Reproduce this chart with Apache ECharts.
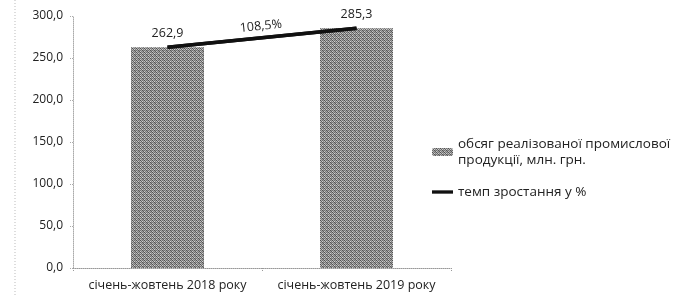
<!DOCTYPE html>
<html>
<head>
<meta charset="utf-8">
<script src="https://cdn.jsdelivr.net/npm/echarts@6/dist/echarts.min.js"></script>
<style>
  html, body { margin: 0; padding: 0; background: #fff; }
  #main { width: 692px; height: 297px; }
</style>
</head>
<body>
<div id="main"></div>
<script>
// дані
var categories = ['січень-жовтень 2018 року', 'січень-жовтень 2019 року'];
var volume = [262.9, 285.3];          // обсяг реалізованої промислової продукції, млн. грн.
var growth = [108.5];                 // темп зростання у %
var yTicks = { min: 0, max: 300, step: 50 };
var seriesNames = ['обсяг реалізованої промислової\nпродукції, млн. грн.', 'темп зростання у %'];

function fmt(v, d) {
    return v.toFixed(d).replace('.', ',');
}

// сіра "крапчаста" заливка стовпчиків
function makePattern() {
    var c = document.createElement('canvas');
    c.width = 4; c.height = 4;
    var ctx = c.getContext('2d');
    var cols = [
        ['#505050', '#b0b0b0', '#707070', '#a0a0a0'],
        ['#c0c0c0', '#606060', '#d0d0d0', '#808080'],
        ['#707070', '#a8a8a8', '#555555', '#909090'],
        ['#c8c8c8', '#808080', '#a0a0a0', '#5a5a5a']
    ];
    for (var i = 0; i < 4; i++) {
        for (var j = 0; j < 4; j++) {
            ctx.fillStyle = cols[i][j];
            ctx.fillRect(j, i, 1, 1);
        }
    }
    return c;
}

var myChart = echarts.init(document.getElementById('main'), null, { renderer: 'canvas' });
var font = 'Open Sans';
var pattern = makePattern();

var option = {
    backgroundColor: '#fff',
    animation: false,
    textStyle: { fontFamily: font },
    grid: { left: 73, right: 241, top: 16, bottom: 29, containLabel: false },
    legend: {
        orient: 'vertical',
        left: 427,
        top: 123,
        itemWidth: 21,
        itemHeight: 8,
        itemGap: 8,
        textStyle: { fontSize: 13.5, color: '#222', lineHeight: 16, fontFamily: font },
        data: [
            { name: seriesNames[0], textStyle: { padding: [16, 0, 0, 0] } },
            { name: seriesNames[1], icon: 'path://M0,0H22V3.5H0Z' }
        ]
    },
    xAxis: {
        type: 'category',
        data: categories,
        axisLine: { show: true, lineStyle: { color: '#999', type: 'dotted', width: 1 } },
        axisTick: { show: true, length: 3, lineStyle: { color: '#999', type: 'dotted' } },
        axisLabel: { color: '#222', fontSize: 12.5, margin: 11, interval: 0, hideOverlap: false, fontFamily: font }
    },
    yAxis: {
        type: 'value',
        min: yTicks.min,
        max: yTicks.max,
        interval: yTicks.step,
        splitLine: { show: false },
        axisLine: { show: true, lineStyle: { color: '#aaa', type: 'dotted', width: 1 } },
        axisTick: { show: true, length: 3, lineStyle: { color: '#aaa', type: 'dotted' } },
        axisLabel: {
            color: '#222', fontSize: 12, margin: 10, fontFamily: font,
            formatter: function (v) { return fmt(v, 1); }
        }
    },
    graphic: [{
        type: 'line',
        shape: { x1: 15, y1: 0, x2: 15, y2: 297 },
        style: { stroke: '#bbb', lineDash: [1, 2], lineWidth: 1 }
    }],
    series: [{
        name: seriesNames[0],
        type: 'bar',
        barWidth: 73,
        itemStyle: { color: { image: pattern, repeat: 'repeat' } },
        label: {
            show: true,
            position: 'top',
            distance: 7,
            color: '#222',
            fontSize: 12.5,
            fontFamily: font,
            formatter: function (p) { return fmt(p.value, 1); }
        },
        data: volume
    }, {
        name: seriesNames[1],
        type: 'line',
        symbol: 'none',
        itemStyle: { color: '#111' },
        lineStyle: { color: '#111', width: 3.5 },
        data: volume,
        z: 5,
        markLine: {
            silent: true,
            symbol: 'none',
            lineStyle: { color: '#111', width: 3.5, type: 'solid' },
            label: {
                show: true,
                position: 'middle',
                distance: 5,
                color: '#222',
                fontSize: 12.5,
                fontFamily: font,
                formatter: function () { return fmt(growth[0], 1) + '%'; }
            },
            data: [[
                { coord: [categories[0], volume[0]] },
                { coord: [categories[1], volume[1]] }
            ]]
        }
    }]
};

myChart.setOption(option);
</script>
</body>
</html>
